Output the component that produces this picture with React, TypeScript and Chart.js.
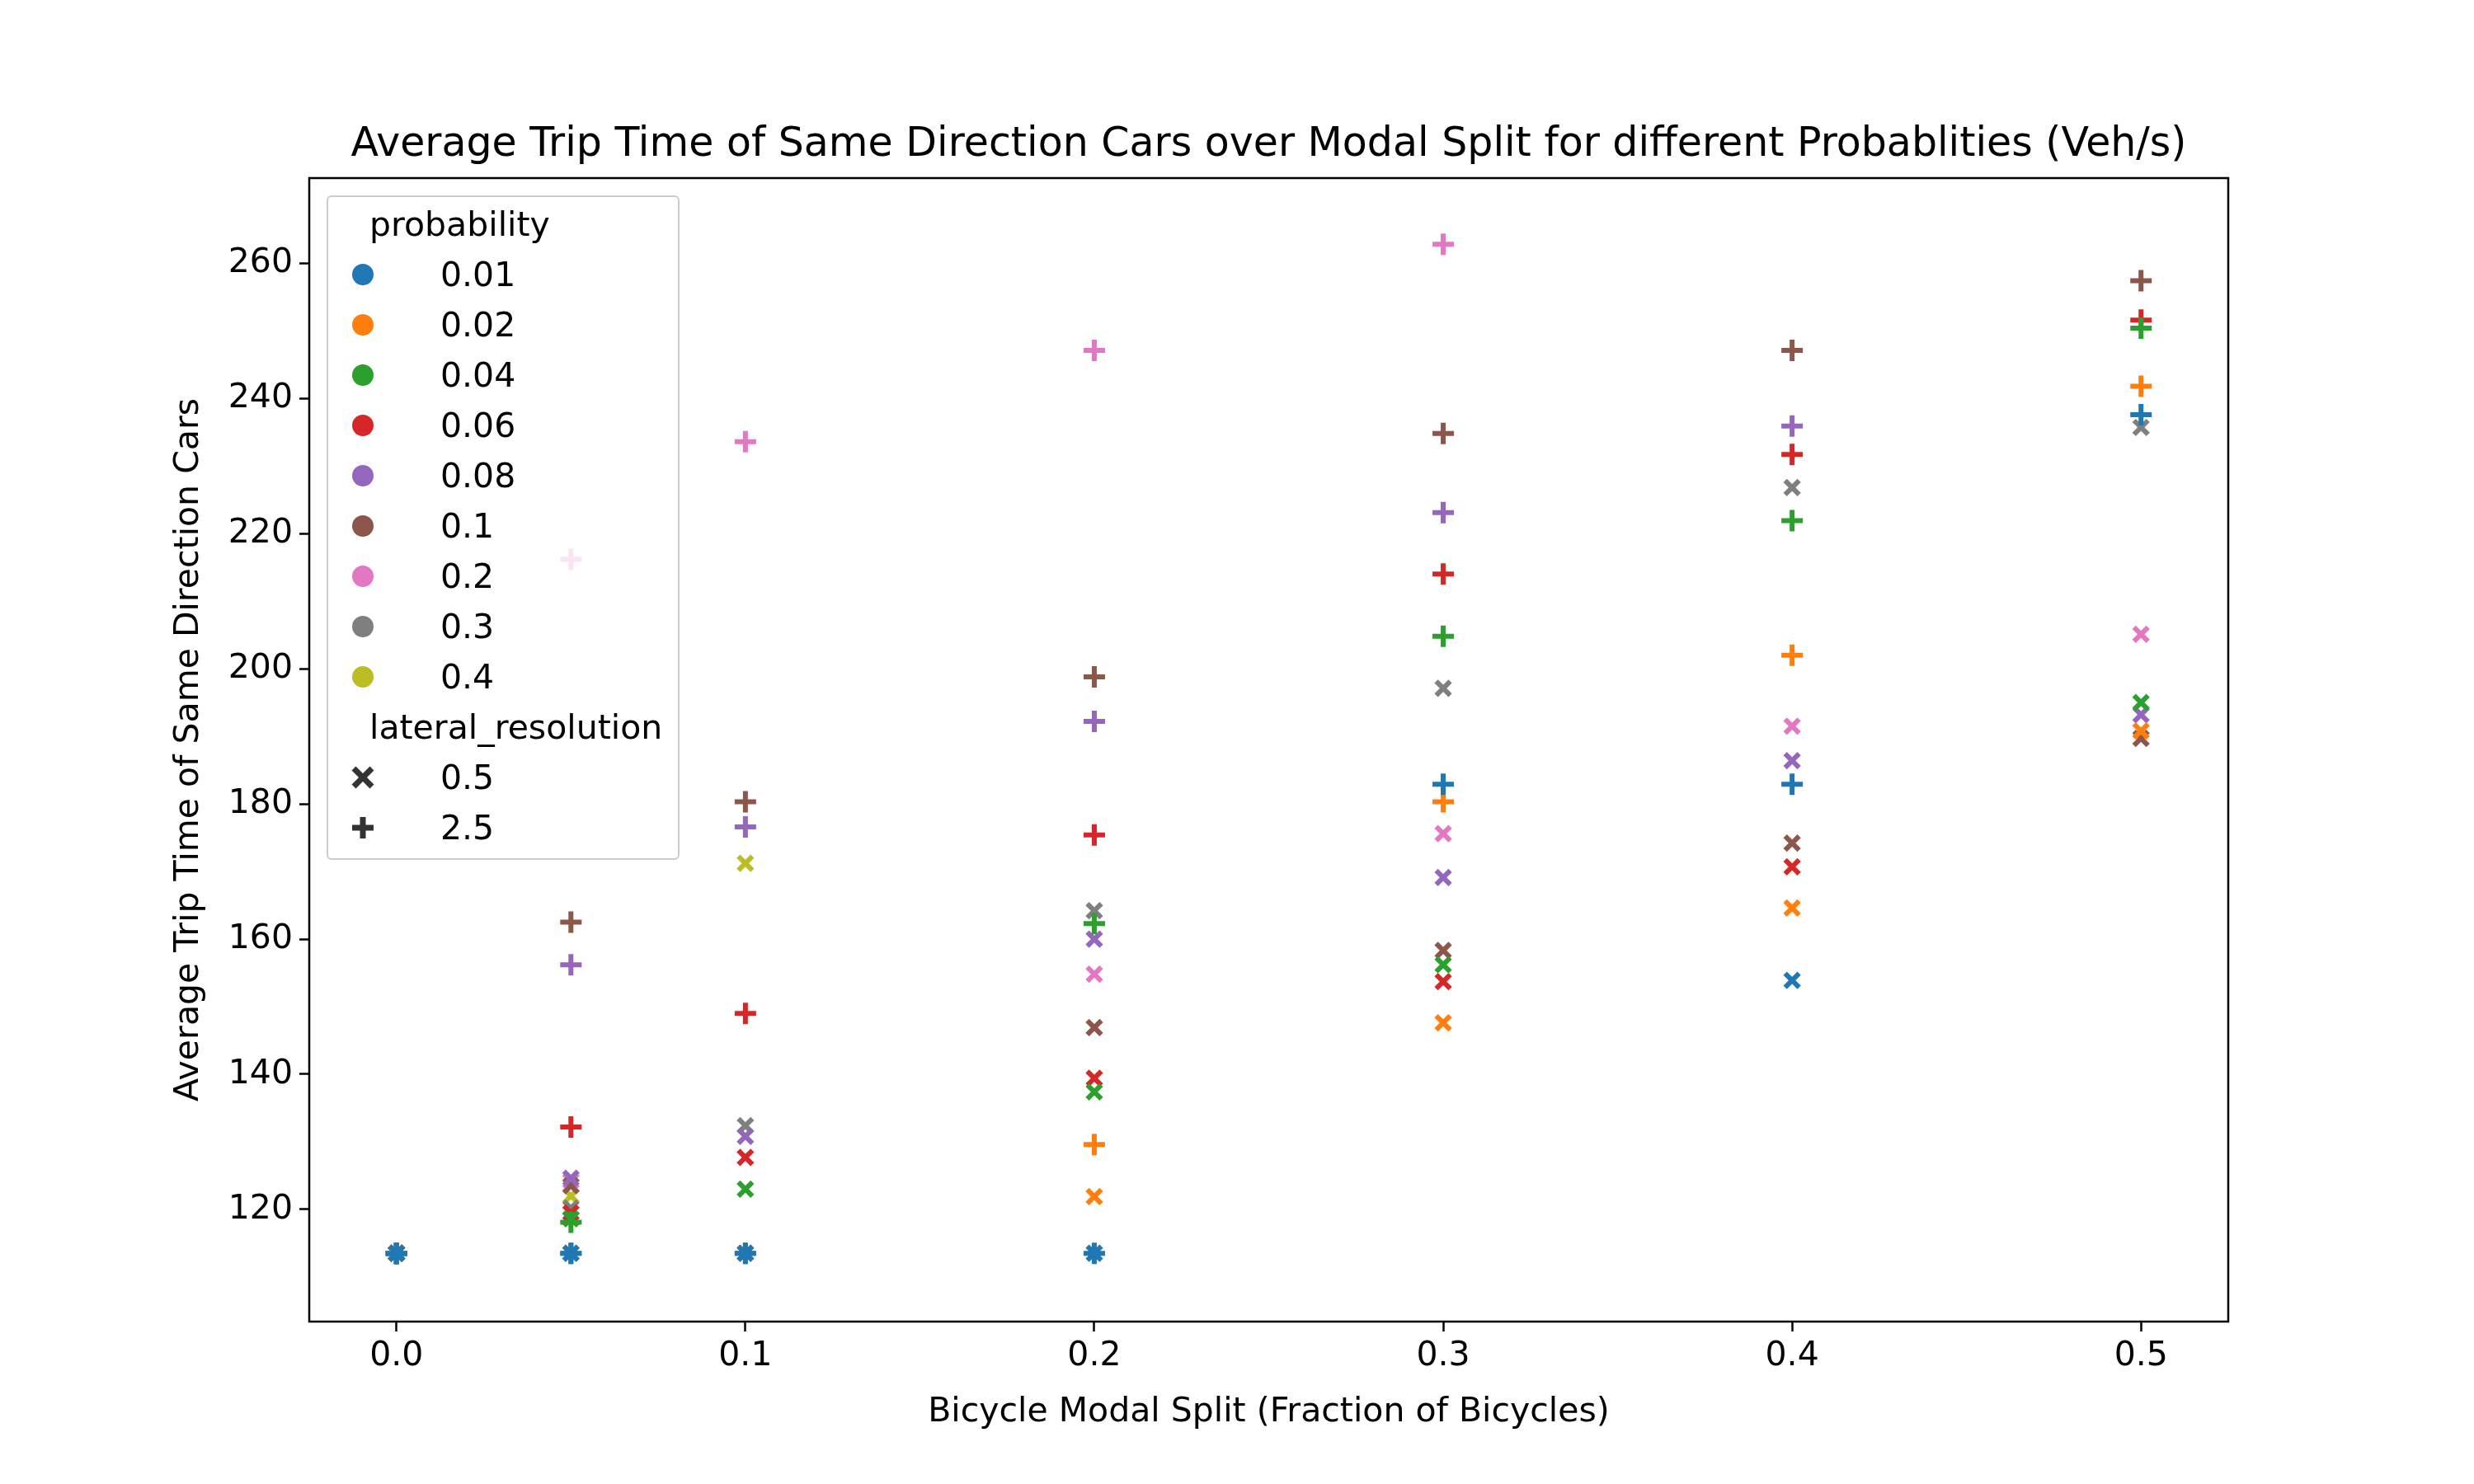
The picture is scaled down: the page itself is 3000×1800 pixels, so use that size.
import React, { useEffect, useRef } from "react";
import { Chart, registerables } from "chart.js";
Chart.register(...registerables);

const probabilities = ["0.01", "0.02", "0.04", "0.06", "0.08", "0.1", "0.2", "0.3", "0.4"];
const colors = ["#1f77b4", "#ff7f0e", "#2ca02c", "#d62728", "#9467bd", "#8c564b", "#e377c2", "#7f7f7f", "#bcbd22"];

// lateral_resolution 0.5 (x markers): [modalSplit, tripTime]
const lr05: number[][][] = [
  [[0, 113.5], [0.05, 113.5], [0.1, 113.5], [0.2, 113.5], [0.4, 153.9]],
  [[0, 113.5], [0.05, 113.5], [0.1, 113.5], [0.2, 121.9], [0.3, 147.6], [0.4, 164.6], [0.5, 190.8]],
  [[0, 113.5], [0.05, 118.6], [0.1, 123], [0.2, 137.4], [0.3, 156.2], [0.5, 195]],
  [[0, 113.5], [0.05, 119.5], [0.1, 127.7], [0.2, 139.4], [0.3, 153.7], [0.4, 170.7]],
  [[0, 113.5], [0.05, 124.6], [0.1, 130.8], [0.2, 160], [0.3, 169.1], [0.4, 186.4], [0.5, 193.2]],
  [[0, 113.5], [0.05, 123.5], [0.2, 146.9], [0.3, 158.3], [0.4, 174.2], [0.5, 189.7]],
  [[0, 113.5], [0.05, 124.2], [0.2, 154.8], [0.3, 175.6], [0.4, 191.5], [0.5, 205.1]],
  [[0, 113.5], [0.05, 120.2], [0.1, 132.4], [0.2, 164.2], [0.3, 197.1], [0.4, 226.8], [0.5, 235.7]],
  [[0, 113.5], [0.05, 122], [0.1, 171.2]],
];
// lateral_resolution 2.5 (+ markers)
const lr25: number[][][] = [
  [[0, 113.5], [0.05, 113.5], [0.1, 113.5], [0.2, 113.5], [0.3, 182.9], [0.4, 182.9], [0.5, 237.6]],
  [[0, 113.5], [0.05, 113.5], [0.1, 113.5], [0.2, 129.6], [0.3, 180.3], [0.4, 202], [0.5, 241.8]],
  [[0, 113.5], [0.05, 118.1], [0.2, 162.3], [0.3, 204.8], [0.4, 221.9], [0.5, 250.4]],
  [[0, 113.5], [0.05, 132.2], [0.1, 149], [0.2, 175.4], [0.3, 214], [0.4, 231.7], [0.5, 251.6]],
  [[0, 113.5], [0.05, 156.2], [0.1, 176.6], [0.2, 192.2], [0.3, 223.1], [0.4, 235.9]],
  [[0, 113.5], [0.05, 162.5], [0.1, 180.3], [0.2, 198.8], [0.3, 234.8], [0.4, 247.1], [0.5, 257.4]],
  [[0, 113.5], [0.05, 216.2], [0.1, 233.6], [0.2, 247.1], [0.3, 262.8]],
  [[0, 113.5]],
  [[0, 113.5]],
];
const xTicks = [0, 0.1, 0.2, 0.3, 0.4, 0.5];
const yTicks = [120, 140, 160, 180, 200, 220, 240, 260];

const FONT = "DejaVu Sans";
const FS = 41;

const frame = {
  id: "frame",
  afterDraw(chart: any) {
    const { ctx, chartArea: a } = chart;
    ctx.save();
    ctx.strokeStyle = "#000";
    ctx.lineWidth = 2.5;
    ctx.strokeRect(a.left, a.top, a.right - a.left, a.bottom - a.top);
    ctx.restore();
  },
};

function Marker({ color, plus }: { color: string; plus?: boolean }) {
  return (
    <canvas
      width={32}
      height={32}
      ref={(c) => {
        if (!c) return;
        const g = c.getContext("2d")!;
        g.clearRect(0, 0, 32, 32);
        g.strokeStyle = color;
        g.fillStyle = color;
        if (plus === undefined) {
          g.beginPath();
          g.arc(16, 16, 13, 0, Math.PI * 2);
          g.fill();
        } else {
          g.lineWidth = 7;
          g.beginPath();
          if (plus) {
            g.moveTo(3, 16); g.lineTo(29, 16); g.moveTo(16, 3); g.lineTo(16, 29);
          } else {
            g.moveTo(5, 5); g.lineTo(27, 27); g.moveTo(27, 5); g.lineTo(5, 27);
          }
          g.stroke();
        }
      }}
      style={{ width: 32, height: 32 }}
    />
  );
}

export default function App() {
  const ref = useRef<HTMLCanvasElement>(null);
  useEffect(() => {
    const datasets: any[] = [];
    probabilities.forEach((p, i) => {
      datasets.push({
        label: p + " / 0.5",
        data: lr05[i].map(([x, y]) => ({ x, y })),
        pointStyle: "crossRot",
        pointRadius: 12,
        pointBorderWidth: 6,
        borderColor: colors[i],
        backgroundColor: colors[i],
      });
      datasets.push({
        label: p + " / 2.5",
        data: lr25[i].map(([x, y]) => ({ x, y })),
        pointStyle: "cross",
        pointRadius: 13,
        pointBorderWidth: 6,
        borderColor: colors[i],
        backgroundColor: colors[i],
      });
    });
    const grid = { display: true, drawOnChartArea: false, drawTicks: true, tickLength: 12, tickColor: "#000", tickWidth: 2.5 } as any;
    const chart = new Chart(ref.current!, {
      type: "scatter",
      data: { datasets },
      options: {
        animation: false,
        responsive: false,
        devicePixelRatio: 1,
        layout: { padding: { top: 216, right: 298, bottom: 62, left: 205 } },
        plugins: { legend: { display: false }, tooltip: { enabled: false } },
        scales: {
          x: {
            type: "linear",
            min: -0.025,
            max: 0.525,
            afterBuildTicks: (s: any) => { s.ticks = xTicks.map((v) => ({ value: v })); },
            afterFit: (s: any) => { s.height = 135; },
            grid,
            border: { display: false },
            ticks: { color: "#000", font: { family: FONT, size: FS }, callback: (v: any) => Number(v).toFixed(1), padding: 6 },
            title: { display: true, text: "Bicycle Modal Split (Fraction of Bicycles)", color: "#000", font: { family: FONT, size: FS }, padding: 0 },
          },
          y: {
            min: 103.4,
            max: 272.6,
            afterBuildTicks: (s: any) => { s.ticks = yTicks.map((v) => ({ value: v })); },
            afterFit: (s: any) => { s.width = 170; },
            grid,
            border: { display: false },
            ticks: { color: "#000", font: { family: FONT, size: FS }, padding: 8 },
            title: { display: true, text: "Average Trip Time of Same Direction Cars", color: "#000", font: { family: FONT, size: FS }, padding: 0 },
          },
        },
      },
      plugins: [frame],
    });
    return () => chart.destroy();
  }, []);

  const rows: any[] = [];
  const row = (key: string, marker: any, text: string, head?: boolean) => (
    <div key={key} style={{ display: "flex", alignItems: "center", height: 61 }}>
      {head ? null : <div style={{ width: 84, display: "flex", justifyContent: "center" }}>{marker}</div>}
      <span style={{ marginLeft: head ? 50 : 0, paddingLeft: head ? 0 : 52 }}>{text}</span>
    </div>
  );
  rows.push(row("h1", null, "probability", true));
  probabilities.forEach((p, i) => rows.push(row(p, <Marker color={colors[i]} />, p)));
  rows.push(row("h2", null, "lateral_resolution", true));
  rows.push(row("a", <Marker color="#333" plus={false} />, "0.5"));
  rows.push(row("b", <Marker color="#333" plus={true} />, "2.5"));

  return (
    <div style={{ position: "absolute", left: 0, top: 0, width: 3000, height: 1800, background: "#fff", fontFamily: FONT }}>
      <canvas ref={ref} width={3000} height={1800} style={{ width: 3000, height: 1800, position: "absolute", left: 0, top: 0 }} />
      <div style={{ position: "absolute", top: 144, left: 375, width: 2327, textAlign: "center", fontSize: 49, color: "#000" }}>
        Average Trip Time of Same Direction Cars over Modal Split for different Probablities (Veh/s)
      </div>
      <div
        style={{
          position: "absolute", left: 396, top: 237, width: 428, height: 806,
          border: "2px solid #ccc", borderRadius: 6, background: "rgba(255,255,255,0.8)",
          fontSize: FS, color: "#000", boxSizing: "border-box", paddingTop: 2,
        }}
      >
        {rows}
      </div>
    </div>
  );
}
